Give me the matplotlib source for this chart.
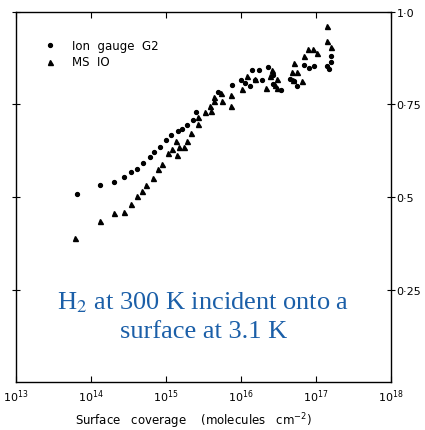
import numpy as np
import matplotlib
matplotlib.use("Agg")
import matplotlib.pyplot as plt

# log10 of surface coverage (molecules cm^-2) and sticking coefficient
gauge_logx = [13.81, 14.12, 14.31, 14.44, 14.53, 14.61, 14.69, 14.79, 14.84, 14.92,
              15.00, 15.07, 15.16, 15.21, 15.28, 15.36, 15.40, 15.69, 15.88, 16.00,
              16.05, 16.12, 16.15, 16.24, 16.19, 16.28, 16.36, 16.43, 16.43, 16.53,
              16.65, 16.70, 16.75, 16.84, 16.91, 16.97, 17.15, 17.17, 17.20, 17.20]
gauge_s = [0.508, 0.532, 0.541, 0.554, 0.568, 0.576, 0.592, 0.608, 0.622, 0.635,
           0.654, 0.668, 0.678, 0.684, 0.695, 0.708, 0.730, 0.784, 0.803, 0.816,
           0.808, 0.800, 0.843, 0.843, 0.816, 0.816, 0.851, 0.830, 0.805, 0.789,
           0.819, 0.814, 0.800, 0.857, 0.849, 0.854, 0.854, 0.846, 0.881, 0.865]

ms_logx = [13.79, 14.12, 14.31, 14.44, 14.53, 14.61, 14.68, 14.73, 14.83, 14.89,
           14.95, 15.03, 15.08, 15.15, 15.13, 15.17, 15.24, 15.28, 15.33, 15.43,
           15.43, 15.52, 15.60, 15.59, 15.64, 15.64, 15.73, 15.75, 15.87, 15.87,
           16.01, 16.08, 16.19, 16.33, 16.39, 16.48, 16.48, 16.41, 16.45, 16.68,
           16.71, 16.75, 16.69, 16.81, 16.84, 16.89, 16.96, 17.01, 17.15, 17.15, 17.20]
ms_s = [0.389, 0.435, 0.457, 0.459, 0.481, 0.503, 0.516, 0.532, 0.551, 0.576,
        0.589, 0.619, 0.630, 0.614, 0.651, 0.635, 0.635, 0.651, 0.673, 0.697,
        0.716, 0.730, 0.732, 0.746, 0.759, 0.770, 0.781, 0.759, 0.776, 0.746,
        0.792, 0.827, 0.819, 0.795, 0.827, 0.819, 0.795, 0.843, 0.803, 0.838,
        0.862, 0.838, 0.816, 0.814, 0.881, 0.900, 0.900, 0.889, 0.962, 0.922, 0.905]

xtick_exp = [13, 14, 15, 16, 17, 18]
ytick_vals = [0.25, 0.5, 0.75, 1.0]
ytick_labels = ["0\u00b725", "0\u00b75", "0\u00b775", "1\u00b70"]

fig = plt.figure(figsize=(4.25, 4.31), dpi=100)
ax = fig.add_axes([0.038, 0.111, 0.882, 0.859])

ax.plot(10 ** np.array(gauge_logx), gauge_s, "o", color="black", ms=2.8, mec="black")
ax.plot(10 ** np.array(ms_logx), ms_s, "^", color="black", ms=3.6, mec="black")

ax.set_xscale("log")
ax.set_xlim(1e13, 1e18)
ax.set_ylim(0, 1.0)

ax.set_xticks([10.0 ** e for e in xtick_exp])
ax.set_xticklabels(["$10^{%d}$" % e for e in xtick_exp], fontsize=8)
ax.xaxis.set_minor_locator(matplotlib.ticker.NullLocator())
ax.tick_params(axis="x", direction="in", length=4, top=True, pad=4)

ax.yaxis.tick_right()
ax.set_yticks(ytick_vals)
ax.set_yticklabels(ytick_labels, fontsize=8)
ax.tick_params(axis="y", direction="inout", length=6, left=True, right=True, pad=1)

for sp in ax.spines.values():
    sp.set_linewidth(1.0)

# legend drawn as in the original figure
ax.plot(10 ** 13.45, 0.91, "o", color="black", ms=2.8)
ax.plot(10 ** 13.45, 0.865, "^", color="black", ms=3.6)
ax.text(10 ** 13.75, 0.91, "Ion  gauge  G2", fontsize=8.5, va="center")
ax.text(10 ** 13.75, 0.865, "MS  IO", fontsize=8.5, va="center")

ax.text(0.5, 0.18, "H$_2$ at 300 K incident onto a\nsurface at 3.1 K",
        transform=ax.transAxes, ha="center", va="center", color="#1b5fa8",
        fontsize=19, family="Liberation Serif", linespacing=1.35,
        math_fontfamily="stix")

fig.text(0.455, 0.014, "Surface   coverage    (molecules   cm$^{-2}$)", ha="center",
         fontsize=8.5)

fig.savefig("out.png", dpi=100)
